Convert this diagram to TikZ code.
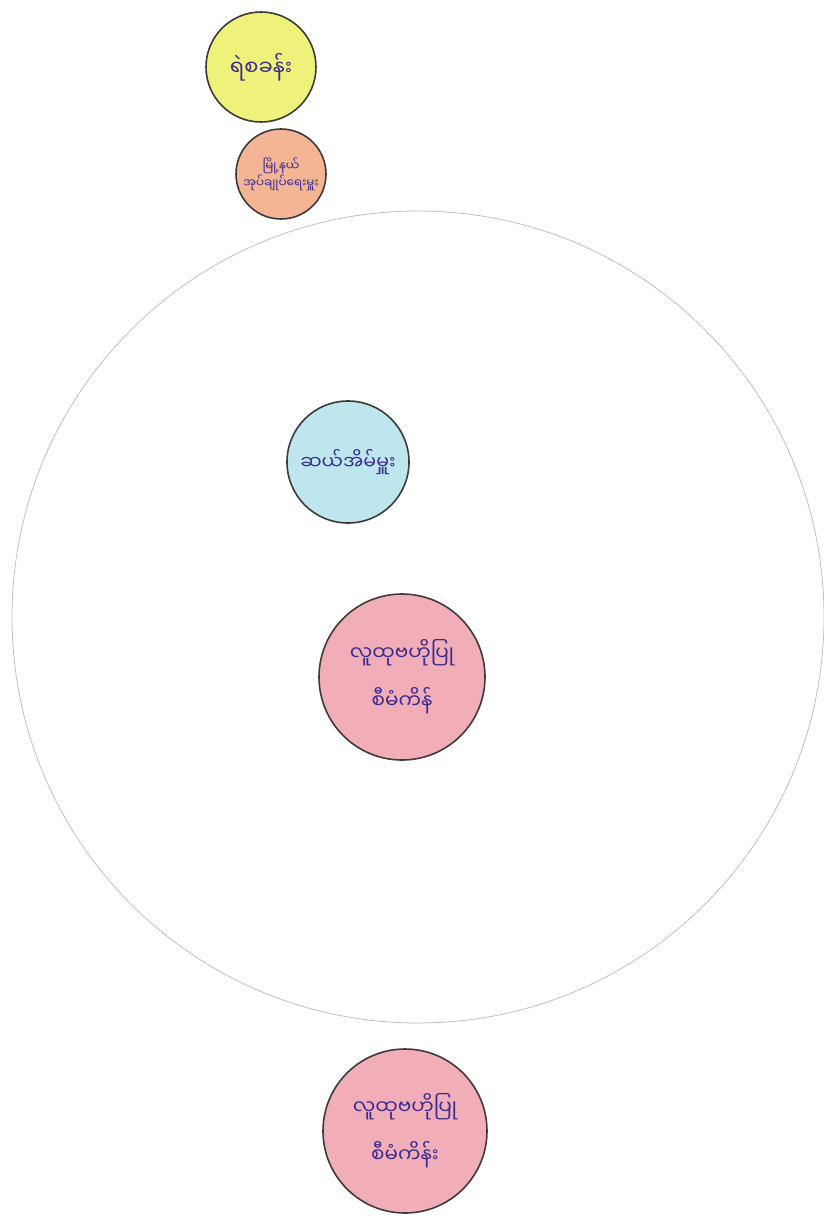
\documentclass[tikz,border=0pt]{standalone}
\usepackage{fontspec}
\newfontfamily\mym[Script=Myanmar]{Noto Sans Myanmar UI}
\definecolor{inkc}{HTML}{3B2C8E}
\definecolor{yelf}{HTML}{EEF27A}
\definecolor{oraf}{HTML}{F3B593}
\definecolor{bluf}{HTML}{BDE6EF}
\definecolor{redf}{HTML}{F2AEB8}
\definecolor{edgec}{HTML}{3F3A3A}
\tikzset{
  blob/.style={circle, draw=edgec, line width=1.6pt, inner sep=0pt, text=inkc, align=center, font=\mym},
}
\begin{document}
\begin{tikzpicture}[x=1pt,y=-1pt]
\useasboundingbox (0,0) rectangle (824,1218);
\node[circle, draw=black!25, line width=0.8pt, minimum size=812pt] (village) at (418,617) {};
\node[blob, fill=yelf, minimum size=110pt, font=\mym\fontsize{21}{24}\selectfont] (police) at (261,67) {ရဲစခန်း};
\node[blob, fill=oraf, minimum size=90pt, font=\mym\fontsize{12}{17}\selectfont] (admin) at (281,174) {မြို့နယ်\\အုပ်ချုပ်ရေးမှူး};
\node[blob, fill=bluf, minimum size=122pt, font=\mym\fontsize{19}{22}\selectfont] (tenhh) at (348,462) {ဆယ်အိမ်မှူး};
\node[blob, fill=redf, minimum size=166pt, font=\mym\fontsize{20}{48}\selectfont] (cdd1) at (402,677) {လူထုဗဟိုပြု\\စီမံကိန်};
\node[blob, fill=redf, minimum size=164pt, font=\mym\fontsize{20}{48}\selectfont] (cdd2) at (405,1131) {လူထုဗဟိုပြု\\စီမံကိန်း};
\end{tikzpicture}
\end{document}
